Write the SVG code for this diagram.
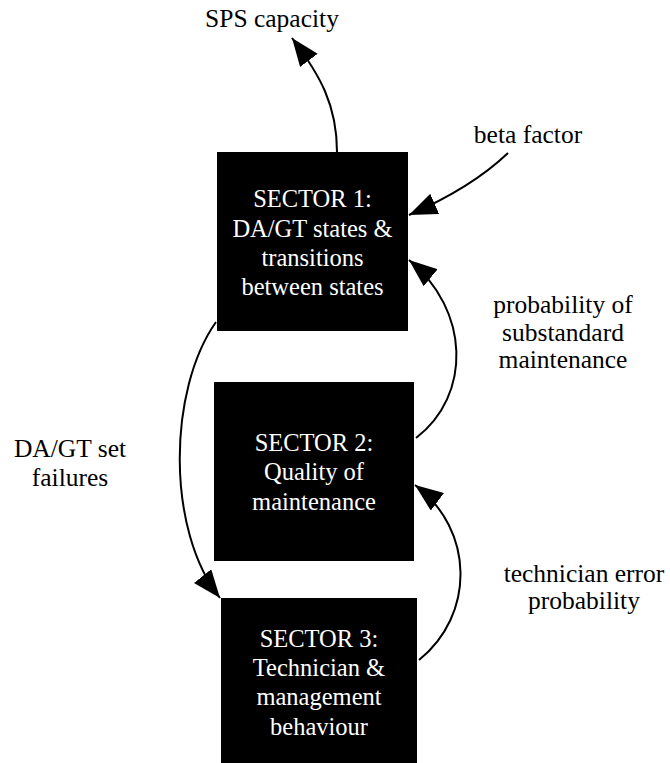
<svg xmlns="http://www.w3.org/2000/svg" width="670" height="763" viewBox="0 0 670 763">
  <style>
    .node rect { fill: #000; stroke: none; }
    .node text { fill: #fff; font-size: 24.5px; text-anchor: middle; }
    .label { fill: #000; font-size: 25.5px; text-anchor: middle; }
    .edge { fill: none; stroke: #000; stroke-width: 2; }
  </style>
  <defs>
    <marker id="arrow" viewBox="0 0 28 22" refX="28" refY="11" markerWidth="28" markerHeight="22" markerUnits="userSpaceOnUse" orient="auto">
      <path d="M0,0 L28,11 L0,22 z" fill="#000"/>
    </marker>
  </defs>

  <rect width="670" height="763" fill="#fff"/>

  <!-- connectors -->
  <g id="connectors">
    <path class="edge" d="M337,152 C337,105 320,75 292,38" marker-end="url(#arrow)"/>
    <path class="edge" d="M508,153 C485,175 455,195 409,215" marker-end="url(#arrow)"/>
    <path class="edge" d="M416,438 C472,395 470,310 409,260" marker-end="url(#arrow)"/>
    <path class="edge" d="M419,660 C475,615 475,530 415,485" marker-end="url(#arrow)"/>
    <path class="edge" d="M216,322 C168,390 166,530 220,598" marker-end="url(#arrow)"/>
  </g>

  <g font-family="'Liberation Serif', 'Times New Roman', serif">
    <!-- edge labels -->
    <g id="edge-labels">
      <text class="label" x="272" y="27">SPS capacity</text>
      <text class="label" x="528" y="143">beta factor</text>
      <text class="label" x="563" y="313">probability of</text>
      <text class="label" x="563" y="341">substandard</text>
      <text class="label" x="563" y="368">maintenance</text>
      <text class="label" x="70" y="457">DA/GT set</text>
      <text class="label" x="70" y="486">failures</text>
      <text class="label" x="584" y="582">technician error</text>
      <text class="label" x="584" y="609">probability</text>
    </g>

    <!-- sector nodes -->
    <g id="sector1" class="node">
      <rect x="217" y="152" width="191" height="179"/>
      <text x="312.5" y="207">SECTOR 1:</text>
      <text x="312.5" y="236.5">DA/GT states &amp;</text>
      <text x="312.5" y="266">transitions</text>
      <text x="312.5" y="295">between states</text>
    </g>
    <g id="sector2" class="node">
      <rect x="214" y="382" width="200" height="179"/>
      <text x="314" y="450.5">SECTOR 2:</text>
      <text x="314" y="480">Quality of</text>
      <text x="314" y="509.5">maintenance</text>
    </g>
    <g id="sector3" class="node">
      <rect x="221" y="598" width="196" height="170"/>
      <text x="319" y="647">SECTOR 3:</text>
      <text x="319" y="676">Technician &amp;</text>
      <text x="319" y="705">management</text>
      <text x="319" y="735">behaviour</text>
    </g>
  </g>
</svg>
